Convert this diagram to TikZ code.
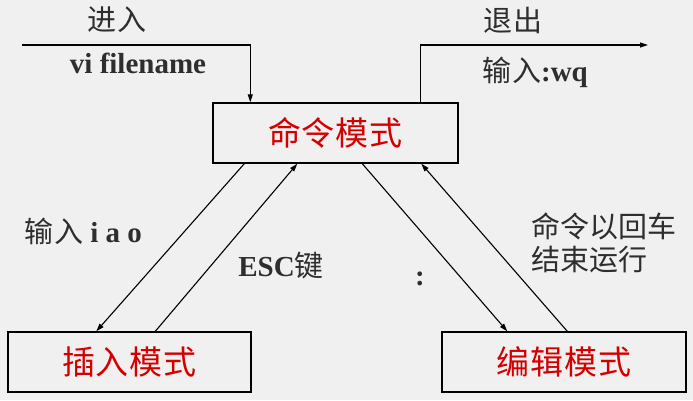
\documentclass[tikz,border=0pt]{standalone}
\usepackage{fontspec}
\setmainfont{Liberation Serif}
\newfontfamily\cjk{Noto Sans CJK SC}
\usetikzlibrary{arrows.meta,shadows}
\definecolor{bg}{HTML}{F0F0F0}
\definecolor{modered}{HTML}{D40000}
\definecolor{labelgray}{HTML}{2E2E2E}
\tikzset{
  modebox/.style={draw=black, line width=1.4pt, fill=bg, minimum width=#1, minimum height=60pt,
    inner sep=0pt, text=modered, font=\cjk\fontsize{33}{35}\selectfont,
    drop shadow={shadow xshift=1.2pt, shadow yshift=-1.2pt, fill=black, opacity=1}},
  lbl/.style={text=labelgray, inner sep=0pt, font=\fontsize{29}{33}\selectfont},
  conn/.style={line width=1.1pt, draw=black},
  tip/.style={-{Triangle[length=8pt,width=5pt]}}
}
\begin{document}
\begin{tikzpicture}[x=1pt,y=-1pt]
\fill[bg] (0,0) rectangle (693,400);
\useasboundingbox (0,0) rectangle (693,400);

\node[modebox=245pt] (cmd) at (335.5,133) {命\kern1pt 令\kern1pt 模\kern1pt 式};
\node[modebox=243pt] (ins) at (129.5,362) {插\kern1pt 入\kern1pt 模\kern1pt 式};
\node[modebox=244pt] (edt) at (564,362) {编\kern1pt 辑\kern1pt 模\kern1pt 式};

\coordinate (in) at (22,45);
\coordinate (out) at (648,45);
\draw[conn,tip] (in) -| ([xshift=38pt]cmd.north west);
\draw[conn,tip] ([xshift=208pt]cmd.north west) |- (out);

\draw[conn,tip] ([xshift=32pt]cmd.south west) -- ([xshift=89pt]ins.north west);
\draw[conn,tip] ([xshift=148pt]ins.north west) -- ([xshift=85pt]cmd.south west);
\draw[conn,tip] ([xshift=150pt]cmd.south west) -- ([xshift=66pt]edt.north west);
\draw[conn,tip] ([xshift=126pt]edt.north west) -- ([xshift=209pt]cmd.south west);

\node[lbl] (l1) at (117,20) {\cjk 进\kern1pt 入};
\node[lbl] (l2) at (138,63) {\bfseries vi filename};
\node[lbl] (l3) at (513,20) {\cjk 退\kern1pt 出};
\node[lbl] (l4) at (535,72) {{\cjk 输\kern1pt 入}\bfseries :wq};
\node[lbl] (l5) at (83,231) {{\cjk 输\kern1pt 入}\bfseries\ i a o};
\node[lbl] (l6) at (281,266) {{\bfseries ESC}{\cjk 键}};
\node[lbl] (l7) at (420,279) {\bfseries :};
\node[lbl, align=left, anchor=west, font=\cjk\fontsize{29}{33}\selectfont] (l8) at (531,243) {命令以回车\\结束运行};
\end{tikzpicture}
\end{document}
